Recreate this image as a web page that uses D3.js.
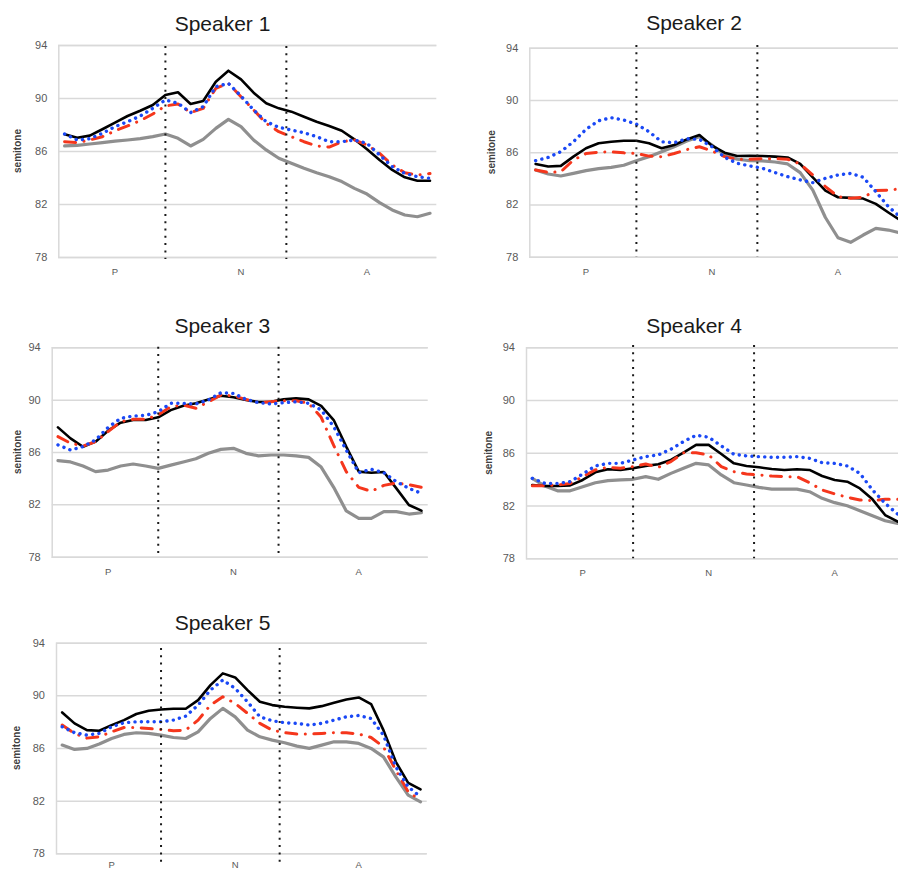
<!DOCTYPE html>
<html>
<head>
<meta charset="utf-8">
<script src="https://cdn.jsdelivr.net/npm/d3@7"></script>
<style>
  html, body { margin: 0; padding: 0; background: #fff; }
  svg { display: block; }
</style>
</head>
<body>
<script>
// ---------------- DATA ----------------
const titles = ["Speaker 1", "Speaker 2", "Speaker 3", "Speaker 4", "Speaker 5"];
const sections = ["P", "N", "A"];
const sectionAt = [4, 14, 24];        // point index where each section label sits
const dividers = [8, 17.6];           // point index of the dotted boundaries
const yTicks = [78, 82, 86, 90, 94];
const yTitle = "semitone";

const s1Gray  = [86.38,86.43,86.53,86.63,86.75,86.83,86.93,87.08,87.28,86.96,86.38,86.88,87.71,88.39,87.84,86.83,86.08,85.45,85.07,84.69,84.36,84.06,83.69,83.18,82.75,82.10,81.55,81.17,81.04,81.30];
const s1Black = [87.26,87.00,87.16,87.64,88.14,88.64,89.04,89.47,90.23,90.43,89.55,89.77,91.23,92.06,91.41,90.40,89.60,89.22,88.97,88.59,88.21,87.89,87.53,86.88,86.13,85.32,84.57,84.01,83.76,83.76];
const s1Red   = [86.70,86.63,86.83,87.08,87.53,87.89,88.29,88.79,89.40,89.55,88.90,89.22,90.73,91.10,90.10,89.10,88.09,87.46,87.08,86.70,86.38,86.30,86.70,86.83,86.45,85.82,84.94,84.36,84.19,84.30];
const s1Blue  = [87.28,86.83,86.93,87.33,87.84,88.21,88.64,89.22,89.85,89.60,88.90,89.35,90.86,91.10,90.15,89.10,88.21,87.79,87.58,87.38,87.08,86.70,86.70,86.83,86.58,85.70,84.82,84.31,84.06,83.94];

const s2Gray  = [84.64,84.33,84.18,84.38,84.59,84.74,84.84,85.00,85.35,85.66,86.04,86.42,86.85,87.19,86.55,85.79,85.46,85.35,85.33,85.25,85.10,84.44,83.10,81.00,79.45,79.10,79.66,80.17,80.04,79.80];
const s2Black = [85.10,84.90,84.95,85.66,86.30,86.68,86.80,86.88,86.88,86.68,86.30,86.55,86.98,87.32,86.50,85.96,85.71,85.73,85.71,85.66,85.60,85.10,84.08,83.06,82.55,82.50,82.45,82.04,81.38,80.75];
const s2Red   = [84.64,84.45,84.50,85.40,85.90,86.00,86.02,85.95,85.90,85.70,85.65,85.90,86.20,86.42,86.10,85.66,85.46,85.46,85.50,85.50,85.46,85.10,84.26,83.37,82.60,82.47,82.55,83.06,83.10,83.20];
const s2Blue  = [85.35,85.60,86.04,86.80,87.75,88.41,88.64,88.46,88.15,87.57,86.80,86.73,87.03,86.98,86.42,85.61,85.15,84.95,84.77,84.44,84.13,83.88,83.67,84.00,84.26,84.38,84.08,82.98,81.83,81.00];

const s3Gray  = [85.34,85.24,84.93,84.50,84.62,84.93,85.08,84.93,84.75,85.00,85.24,85.49,85.90,86.20,86.28,85.90,85.70,85.77,85.77,85.70,85.59,84.85,83.30,81.50,80.93,80.93,81.44,81.44,81.26,81.36];
const s3Black = [87.88,87.04,86.40,86.79,87.63,88.24,88.44,88.44,88.65,89.20,89.54,89.72,90.02,90.30,90.18,89.97,89.82,89.84,90.02,90.10,90.02,89.52,88.44,86.41,84.50,84.42,84.47,83.22,81.95,81.52];
const s3Red   = [87.17,86.67,86.46,86.79,87.56,88.32,88.50,88.50,88.83,89.46,89.59,89.34,89.84,90.36,90.28,90.02,89.77,89.84,89.92,89.92,89.72,88.65,86.50,84.50,83.30,83.00,83.45,83.63,83.50,83.30];
const s3Blue  = [86.54,86.15,86.41,86.92,87.88,88.57,88.75,88.80,89.08,89.72,89.72,89.67,89.97,90.53,90.48,90.02,89.77,89.67,89.77,89.84,89.72,89.21,87.94,86.15,84.42,84.68,84.42,83.73,83.22,82.84];

const s4Gray  = [84.06,83.48,83.12,83.12,83.43,83.73,83.89,83.94,83.99,84.19,83.99,84.44,84.83,85.20,85.08,84.32,83.73,83.56,83.38,83.25,83.25,83.25,83.05,82.55,82.22,81.99,81.61,81.23,80.85,80.65];
const s4Black = [83.56,83.48,83.48,83.53,83.94,84.52,84.75,84.70,84.83,85.01,85.13,85.46,86.02,86.60,86.60,85.91,85.20,85.00,84.90,84.77,84.70,84.75,84.70,84.24,83.94,83.81,83.30,82.47,81.28,80.78];
const s4Red   = [83.50,83.50,83.56,83.68,84.19,84.70,84.90,84.83,84.95,85.15,84.90,85.33,86.00,86.00,85.84,84.95,84.57,84.39,84.32,84.24,84.19,84.19,83.73,83.18,82.88,82.63,82.42,82.37,82.47,82.47];
const s4Blue  = [84.06,83.68,83.68,83.81,84.39,85.00,85.20,85.20,85.46,85.71,85.84,86.27,86.85,87.33,87.18,86.52,85.89,85.76,85.71,85.66,85.66,85.71,85.58,85.25,85.20,85.00,84.44,83.18,82.17,81.35];

const s5Gray  = [86.22,85.89,85.97,86.30,86.72,87.03,87.16,87.11,86.98,86.80,86.72,87.23,88.25,89.01,88.37,87.36,86.85,86.60,86.40,86.14,85.97,86.22,86.47,86.47,86.35,85.97,85.33,83.81,82.42,81.91];
const s5Black = [88.70,87.87,87.36,87.31,87.74,88.12,88.58,88.83,88.93,88.98,88.98,89.64,90.78,91.67,91.36,90.40,89.51,89.26,89.13,89.06,89.01,89.18,89.44,89.69,89.84,89.34,87.36,84.95,83.35,82.85];
const s5Red   = [87.74,87.10,86.75,86.85,87.23,87.56,87.56,87.48,87.41,87.31,87.36,88.12,89.26,89.89,89.39,88.63,87.87,87.36,87.16,87.06,87.06,87.11,87.16,87.16,87.06,86.80,86.09,84.32,82.67,82.04];
const s5Blue  = [87.61,87.16,86.98,87.11,87.61,87.92,87.99,87.99,87.99,88.12,88.42,89.26,90.40,91.16,90.53,89.51,88.37,88.07,87.92,87.87,87.74,87.87,88.12,88.37,88.47,88.24,86.98,84.57,83.05,82.29];

const speakerSeries = [
  [s1Gray, s1Black, s1Red, s1Blue],
  [s2Gray, s2Black, s2Red, s2Blue],
  [s3Gray, s3Black, s3Red, s3Blue],
  [s4Gray, s4Black, s4Red, s4Blue],
  [s5Gray, s5Black, s5Red, s5Blue]
];

// ---------------- STYLE / LAYOUT ----------------
const seriesStyle = [
  { stroke: "#8f8f8f", width: 3.2, dash: null,            cap: "round" },
  { stroke: "#000000", width: 2.6, dash: null,            cap: "round" },
  { stroke: "#f5361c", width: 3,   dash: "11,8.5,0.1,8.5", cap: "round" },
  { stroke: "#1a48f5", width: 3.4, dash: "0.1,6.3",       cap: "round" }
];

const layout = [
  { left: 58.3,  width: 378,   top: 45,    bottom: 257,   titleX: 222.5, titleY: 30.5, labX: 17,    divTop: 46,    divBottom: 259 },
  { left: 529.3, width: 378,   top: 47.7,  bottom: 256.7, titleX: 694,   titleY: 30,   labX: 491.7, divTop: 45,    divBottom: 257 },
  { left: 51.7,  width: 376,   top: 347.3, bottom: 556.7, titleX: 222.3, titleY: 333,  labX: 17,    divTop: 346.7, divBottom: 558 },
  { left: 526,   width: 378,   top: 347.3, bottom: 558.3, titleX: 694,   titleY: 333,  labX: 488.3, divTop: 345,   divBottom: 558.3 },
  { left: 56,    width: 370.7, top: 642.7, bottom: 853.3, titleX: 222.5, titleY: 630,  labX: 16.7,  divTop: 648,   divBottom: 862 }
];

const W = 898, H = 870;
const FONT = "'Liberation Sans', Arial, Helvetica, sans-serif";

const svg = d3.select("body").append("svg")
  .attr("width", W).attr("height", H)
  .attr("viewBox", `0 0 ${W} ${H}`);

svg.append("rect").attr("width", W).attr("height", H).attr("fill", "#fff");

layout.forEach((L, p) => {
  const nPts = speakerSeries[p][0].length;
  const x = d3.scaleLinear().domain([-0.5, nPts - 0.5]).range([L.left, L.left + L.width]);
  const y = d3.scaleLinear().domain([78, 94]).range([L.bottom, L.top]);

  const g = svg.append("g").attr("class", "panel");

  // gridlines + y axis
  const yAxis = d3.axisLeft(y).tickValues(yTicks).tickSize(-L.width).tickFormat(d3.format("d")).tickPadding(11);
  const ga = g.append("g").attr("transform", `translate(${L.left},0)`).call(yAxis);
  ga.select(".domain").attr("stroke", "#d9d9d9").attr("stroke-width", 1.5);
  ga.selectAll(".tick line").attr("stroke", "#d9d9d9").attr("stroke-width", 1.5);
  ga.selectAll(".tick text")
    .attr("fill", "#595959")
    .style("font-family", FONT)
    .style("font-size", "11px");

  // y-axis title
  g.append("text")
    .attr("transform", `translate(${L.labX},${(L.top + L.bottom) / 2}) rotate(-90)`)
    .attr("text-anchor", "middle")
    .attr("dy", "0.35em")
    .attr("fill", "#404040")
    .style("font-family", FONT)
    .style("font-size", "10px")
    .style("font-weight", "bold")
    .text(yTitle);

  // section labels (kept inside the page)
  g.selectAll("text.sec").data(sections).join("text")
    .attr("class", "sec")
    .attr("x", (d, i) => x(sectionAt[i]))
    .attr("y", Math.min(L.bottom + 18, H - 2))
    .attr("text-anchor", "middle")
    .attr("fill", "#595959")
    .style("font-family", FONT)
    .style("font-size", "9.5px")
    .text(d => d);

  // series lines
  const line = d3.line().x((d, i) => x(i)).y(d => y(d)).curve(d3.curveLinear);
  speakerSeries[p].forEach((vals, s) => {
    const st = seriesStyle[s];
    g.append("path")
      .datum(vals)
      .attr("d", line)
      .attr("fill", "none")
      .attr("stroke", st.stroke)
      .attr("stroke-width", st.width)
      .attr("stroke-linejoin", "round")
      .attr("stroke-linecap", st.cap)
      .attr("stroke-dasharray", st.dash);
  });

  // dotted dividers
  g.selectAll("line.div").data(dividers).join("line")
    .attr("class", "div")
    .attr("x1", d => x(d)).attr("x2", d => x(d))
    .attr("y1", L.divTop).attr("y2", L.divBottom)
    .attr("stroke", "#1a1a1a")
    .attr("stroke-width", 2)
    .attr("stroke-dasharray", "2,5.3");

  // title
  g.append("text")
    .attr("x", L.titleX).attr("y", L.titleY)
    .attr("text-anchor", "middle")
    .attr("fill", "#1a1a1a")
    .style("font-family", FONT)
    .style("font-size", "21px")
    .text(titles[p]);
});
</script>
</body>
</html>
